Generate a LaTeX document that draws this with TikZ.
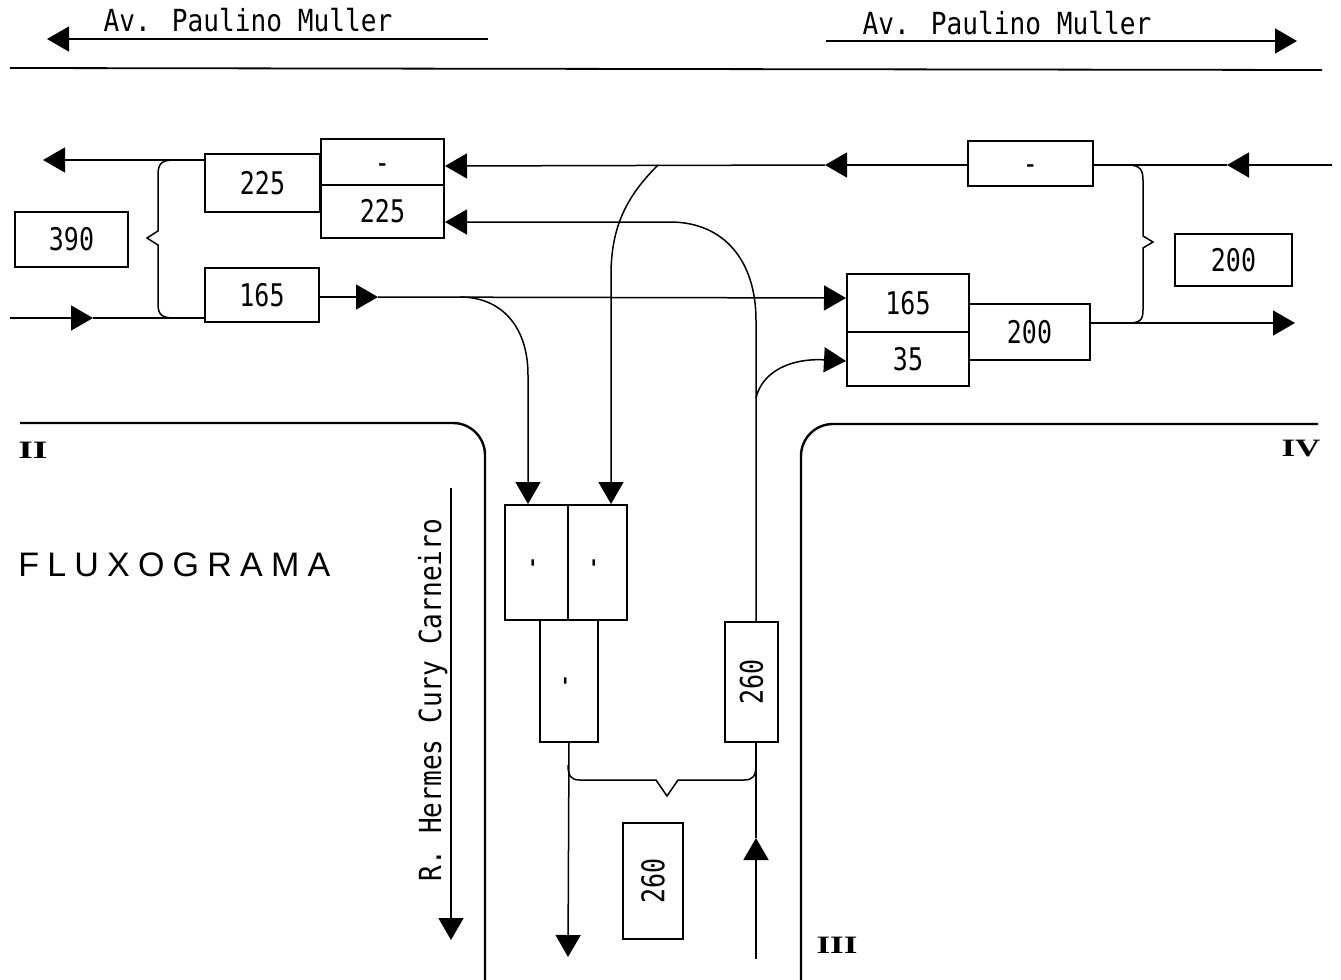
\documentclass[tikz,border=0pt]{standalone}
\usepackage{fontspec}
\usepackage{graphicx}
\usetikzlibrary{arrows.meta,calc}
\newfontfamily\streetfont[FakeStretch=0.86]{DejaVu Sans Mono}
\newfontfamily\numfont[FakeStretch=0.8]{DejaVu Sans Mono}
\newfontfamily\titlefont{Liberation Sans}
\newfontfamily\romanfont{Liberation Serif}
\tikzset{
  box/.style={draw, line width=1pt, inner sep=0pt, font=\numfont\fontsize{15.6}{17}\selectfont},
  boxh/.style={box, text height=11.2pt, text depth=0pt},
  street/.style={font=\streetfont\fontsize{15.2}{17}\selectfont, inner sep=0pt},
  flow/.style={line width=0.75pt},
  arr/.style={-{Triangle[length=11pt,width=12.5pt]}},
  road/.style={line width=1.2pt},
  numeral/.style={font=\romanfont\bfseries\fontsize{12.5}{13}\selectfont, inner sep=0pt},
}
\begin{document}
\begin{tikzpicture}[x=0.5pt,y=-0.5pt]
\useasboundingbox (0,0) rectangle (1341,980);

% street header
\node[street, anchor=base] (st1) at (248,31) {Av. Paulino Muller};
\node[street, anchor=base] (st2) at (1007,34) {Av. Paulino Muller};
\coordinate (s1a) at (488,39);
\coordinate (s1b) at (47,39);
\coordinate (s2a) at (826,41);
\coordinate (s2b) at (1297,41);
\draw[flow, arr] (s1a) -- (s1b);
\draw[flow, arr] (s2a) -- (s2b);
\coordinate (h1) at (10,68);
\coordinate (h2) at (1322,70);
\draw[line width=0.9pt] (h1) -- (h2);

% roads
\draw[road, rounded corners=16pt] (20,423) -- (485,423) -- (485,980);
\draw[road, rounded corners=16pt] (1318,424) -- (801,424) -- (801,980);

% boxes
\node[boxh, minimum width=56.5pt, minimum height=27.5pt] (b390) at (71.5,239.5) {390};
\node[boxh, minimum width=57.5pt, minimum height=29pt] (b225L) at (262.5,183) {225};
\node[boxh, minimum width=57pt, minimum height=27pt] (b165L) at (262,295) {165};
\node[boxh, minimum width=61.5pt, minimum height=23pt] (bTopMinus) at (382.5,162) {-};
\node[boxh, minimum width=61.5pt, minimum height=26.5pt] (b225S) at (382.5,211.5) {225};
\node[boxh, minimum width=62.5pt, minimum height=22.5pt] (bRMinus) at (1030.5,163.5) {-};
\node[boxh, minimum width=61pt, minimum height=29pt] (b165R) at (908,303) {165};
\node[boxh, minimum width=61pt, minimum height=27pt] (b35) at (908,359) {35};
\node[boxh, minimum width=60.5pt, minimum height=28pt] (b200M) at (1029.5,332) {200};
\node[boxh, minimum width=58.5pt, minimum height=26pt] (b200R) at (1233.5,260) {200};
\node[box, minimum width=31.5pt, minimum height=57.5pt] (bD1) at (536.5,562.5) {\rotatebox{90}{-}};
\node[box, minimum width=29.5pt, minimum height=57.5pt] (bD2) at (597.5,562.5) {\rotatebox{90}{-}};
\node[box, minimum width=29pt, minimum height=61pt] (bD3) at (569,681) {\rotatebox{90}{-}};
\node[box, minimum width=26.5pt, minimum height=60pt] (b260U) at (751.5,682) {\rotatebox{90}{260}};
\node[box, minimum width=30pt, minimum height=58pt] (b260L) at (653,881) {\rotatebox{90}{260}};

% free ends
\coordinate (cTL) at (43,160);
\coordinate (cBLs) at (10,318);
\coordinate (cBLt) at (93,318);
\coordinate (cMid) at (378,297);
\coordinate (cTRs) at (1332,165);
\coordinate (cTRt) at (1227,165);
\coordinate (cTMt) at (825,165);
\coordinate (cRout) at (1295,323);
\coordinate (cDown) at (568,957);
\coordinate (cUpS) at (756,959);
\coordinate (cUpT) at (756,838);

% left side flows
\draw[flow, arr] ($(b225L.west)+(0,-23)$) -- (cTL);
\draw[flow, arr] (cBLs) -- (cBLt);
\draw[flow] (cBLt) -- ($(b165L.west)+(0,23)$);
\draw[flow] (175,160) .. controls (162,160) and (158,163) .. (158,175) -- (158,231) -- (147,238) -- (158,245) -- (158,304) .. controls (158,315) and (162,318) .. (175,318);

% 165 eastbound
\draw[flow, arr] ($(b165L.east)+(0,2)$) -- (cMid);
\draw[flow, arr] (cMid) -- ($(b165R.west)+(0,-5)$);
\draw[flow, arr] (460,297) .. controls (500,297) and (528,325) .. (528,375) -- ($(bD1.north)+(-8.5,0)$);

% top westbound
\draw[flow, arr] (cTRs) -- (cTRt);
\draw[flow] (cTRt) -- ($(bRMinus.east)+(0,1.5)$);
\draw[flow, arr] ($(bRMinus.west)+(0,1.5)$) -- (cTMt);
\draw[flow, arr] (cTMt) -- ($(bTopMinus.east)+(0,4)$);
\draw[flow, arr] (658,165) .. controls (628,195) and (611,225) .. (611,275) -- ($(bD2.north)+(13.5,0)$);

% right brace and outflow
\draw[flow, arr] ($(b200M.east)+(0,-9)$) -- (cRout);
\draw[flow] (1093,165) -- (1128,165) .. controls (1140,165) and (1143,170) .. (1143,180) -- (1143,236) -- (1153,242) -- (1143,248) -- (1143,310) .. controls (1143,320) and (1140,323) .. (1128,323);

% northbound from R. Hermes
\draw[flow, arr] ($(b260U.north)+(4.5,0)$) -- (756,320) .. controls (756,262) and (725,222) .. (670,222) -- ($(b225S.east)+(0,10.5)$);
\draw[flow, arr] (756,398) .. controls (762,372) and (790,358) .. ($(b35.west)+(0,2)$);
\draw[flow, arr] (cUpS) -- (cUpT);
\draw[flow] (cUpT) -- ($(b260U.south)+(4.5,0)$);

% southbound
\draw[flow, arr] (bD3.south) -- (cDown);
\draw[flow] (568,765) .. controls (568,776) and (571,780) .. (580,780) -- (656,780) -- (667,796) -- (678,780) -- (744,780) .. controls (753,780) and (756,776) .. (756,765);

% R. Hermes label
\node[street, rotate=90, anchor=base] (st3) at (441,700) {R. Hermes Cury Carneiro};
\coordinate (rh1) at (451,488);
\coordinate (rh2) at (451,940);
\draw[flow, arr] (rh1) -- (rh2);

% title
\node[anchor=base west, inner sep=0pt, font=\titlefont\fontsize{17}{19}\selectfont] (title) at (18,576)
  {F\kern4.1pt L\kern4.1pt U\kern4.1pt X\kern4.1pt O\kern4.1pt G\kern4.1pt R\kern4.1pt A\kern4.1pt M\kern4.1pt A};

% numerals
\node[numeral] (nII) at (33,450) {\scalebox{1.5}[1]{II}};
\node[numeral] (nIV) at (1301,448) {\scalebox{1.4}[1]{IV}};
\node[numeral] (nIII) at (837,945) {\scalebox{1.4}[1]{III}};
\end{tikzpicture}
\end{document}
